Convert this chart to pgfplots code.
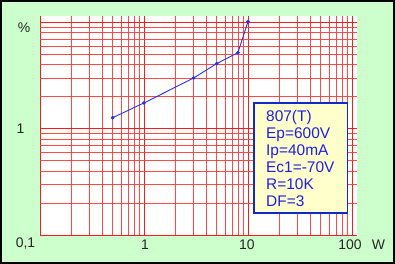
\documentclass[border=0pt]{standalone}
\usepackage{pgfplots}
\pgfplotsset{compat=1.18}
\usepackage{fontspec}
\setmainfont{Liberation Sans}
\definecolor{bgg}{HTML}{CCFFCC}
\definecolor{boxy}{HTML}{FFFFCC}
\definecolor{lblue}{HTML}{1E1EE6}
\definecolor{bblue}{HTML}{1428C8}
\definecolor{pblue}{HTML}{2233EE}
\definecolor{gridred}{HTML}{FF1A1A}
\begin{document}
\begin{tikzpicture}[x=1bp,y=1bp]
\fill[bgg] (0,0) rectangle (395,264);
\useasboundingbox (0,0) rectangle (395,264);
\begin{axis}[at={(40bp,29bp)}, anchor=south west, scale only axis,
  width=317bp, height=219bp,
  xmode=log, ymode=log, xmin=0.1, xmax=111.7, ymin=0.1, ymax=11.5,
  axis background/.style={fill=white},
  axis line style={draw=none}, tick style={draw=none},
  xticklabels=\empty, yticklabels=\empty,
  grid=both,
  major grid style={gridred, line width=0.9pt},
  minor grid style={gridred!80, line width=0.6pt},
  clip=false]
\addplot[color=pblue, line width=0.9bp, mark=*, mark size=1.4bp]
  coordinates {(0.5,1.27)(1,1.75)(3,3.0)(5,4.1)(8,5.2)(10,10.2)};
\end{axis}
\begin{scope}[every node/.style={font=\fontsize{14}{14}\selectfont, text=black!85}]
\node at (25.5,20) {0,1};
\node at (145,19) {1};
\node at (247,19) {10};
\node at (350,19) {100};
\node at (378.5,19) {W};
\node at (24,236.5) {\%};
\node at (20.5,135) {1};
\end{scope}
\fill[boxy] (253.7,51) rectangle (347.3,160.7);
\draw[bblue, line width=1.6bp] (253.7,51) rectangle (347.3,160.7);
\node[anchor=base west, align=left, inner sep=0pt, text=lblue,
  font=\fontsize{15.5}{16.9}\selectfont] at (266,58)
  {807(T)\\Ep=600V\\Ip=40mA\\Ec1=-70V\\R=10K\\DF=3};
\draw[black, line width=2bp] (1,1) rectangle (394,263);
\end{tikzpicture}
\end{document}
